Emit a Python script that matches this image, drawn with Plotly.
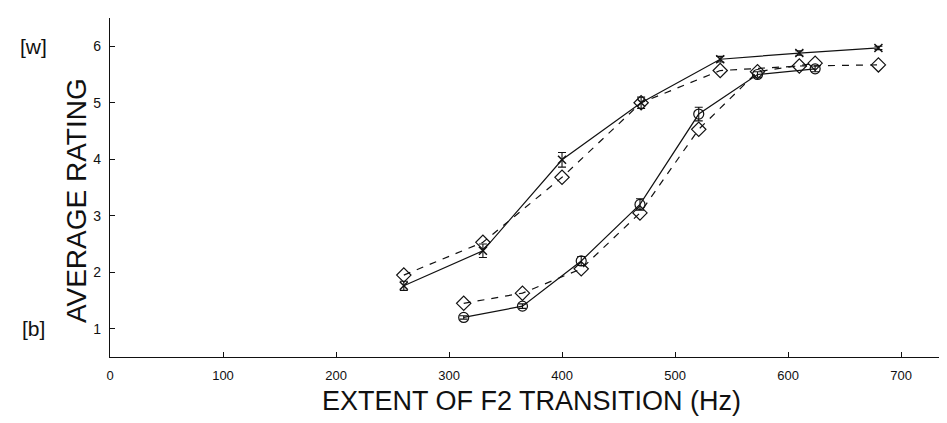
import plotly.graph_objects as go

# Series A (solid, x markers) and A' (dashed, diamonds)
a_x = [260, 330, 400, 470, 540, 610, 680]
a_solid = [1.76, 2.38, 3.99, 5.0, 5.77, 5.88, 5.97]
a_err = [0.08, 0.12, 0.13, 0.1, 0.05, 0.04, 0.03]
a_dash = [1.95, 2.53, 3.68, 5.0, 5.57, 5.65, 5.67]

# Series B (solid, circles) and B' (dashed, diamonds)
b_x = [313, 365, 417, 469, 521, 573, 624]
b_solid = [1.2, 1.4, 2.2, 3.2, 4.8, 5.5, 5.6]
b_err = [0.03, 0.04, 0.08, 0.1, 0.12, 0.05, 0.05]
b_dash = [1.45, 1.63, 2.06, 3.05, 4.53, 5.55, 5.7]

x_ticks = [0, 100, 200, 300, 400, 500, 600, 700]
y_ticks = [1, 2, 3, 4, 5, 6]

FONT = "Liberation Sans, Arial, sans-serif"
BLACK = "#111111"

fig = go.Figure()

def err(vals):
    return dict(type="data", array=vals, visible=True, color=BLACK, thickness=1.1, width=4)

for xs, ys in ((a_x, a_dash), (b_x, b_dash)):
    fig.add_trace(go.Scatter(
        x=xs, y=ys, mode="lines+markers",
        line=dict(color=BLACK, width=1.2, dash="7px,7px"),
        marker=dict(symbol="diamond-open", size=11, color=BLACK, line=dict(width=1.2, color=BLACK)),
        showlegend=False))
fig.add_trace(go.Scatter(
    x=a_x, y=a_solid, mode="lines+markers",
    line=dict(color=BLACK, width=1.2),
    marker=dict(symbol="x-thin-open", size=8, color=BLACK, line=dict(width=1.5, color=BLACK)),
    error_y=err(a_err), showlegend=False))
fig.add_trace(go.Scatter(
    x=b_x, y=b_solid, mode="lines+markers",
    line=dict(color=BLACK, width=1.2),
    marker=dict(symbol="circle-open", size=10, color=BLACK, line=dict(width=1.2, color=BLACK)),
    error_y=err(b_err), showlegend=False))

annotations = [
    dict(text="[w]", xref="paper", yref="y", x=-0.091, y=6, showarrow=False,
         font=dict(family=FONT, size=21, color=BLACK), xanchor="center", yanchor="middle"),
    dict(text="[b]", xref="paper", yref="y", x=-0.091, y=1, showarrow=False,
         font=dict(family=FONT, size=21, color=BLACK), xanchor="center", yanchor="middle"),
    dict(text="AVERAGE RATING", xref="paper", yref="paper", x=-0.0403, y=0.46,
         textangle=-90, showarrow=False, xanchor="center", yanchor="middle",
         font=dict(family=FONT, size=28, color=BLACK)),
    dict(text="EXTENT OF F2 TRANSITION (Hz)", xref="paper", yref="paper", x=0.5, y=-0.13,
         showarrow=False, xanchor="center", yanchor="middle",
         font=dict(family=FONT, size=27, color=BLACK)),
]

fig.update_layout(
    width=947, height=423,
    margin=dict(l=102, r=2, t=10, b=74),
    paper_bgcolor="white", plot_bgcolor="white",
    annotations=annotations,
    font=dict(family=FONT, color=BLACK),
)
fig.update_xaxes(range=[0, 746], tickvals=x_ticks, ticktext=[str(v) for v in x_ticks],
                 showgrid=False, zeroline=False, showline=True, linecolor=BLACK, linewidth=1.2,
                 ticks="inside", ticklen=5, tickcolor=BLACK, ticklabelstandoff=6,
                 tickfont=dict(size=13, family=FONT, color=BLACK))
fig.update_yaxes(range=[0.5, 6.5], tickvals=y_ticks, ticktext=[str(v) for v in y_ticks],
                 showgrid=False, zeroline=False, showline=True, linecolor=BLACK, linewidth=1.2,
                 ticks="inside", ticklen=5, tickcolor=BLACK, ticklabelstandoff=5,
                 tickfont=dict(size=14, family=FONT, color=BLACK))

fig.write_html("out.html")
